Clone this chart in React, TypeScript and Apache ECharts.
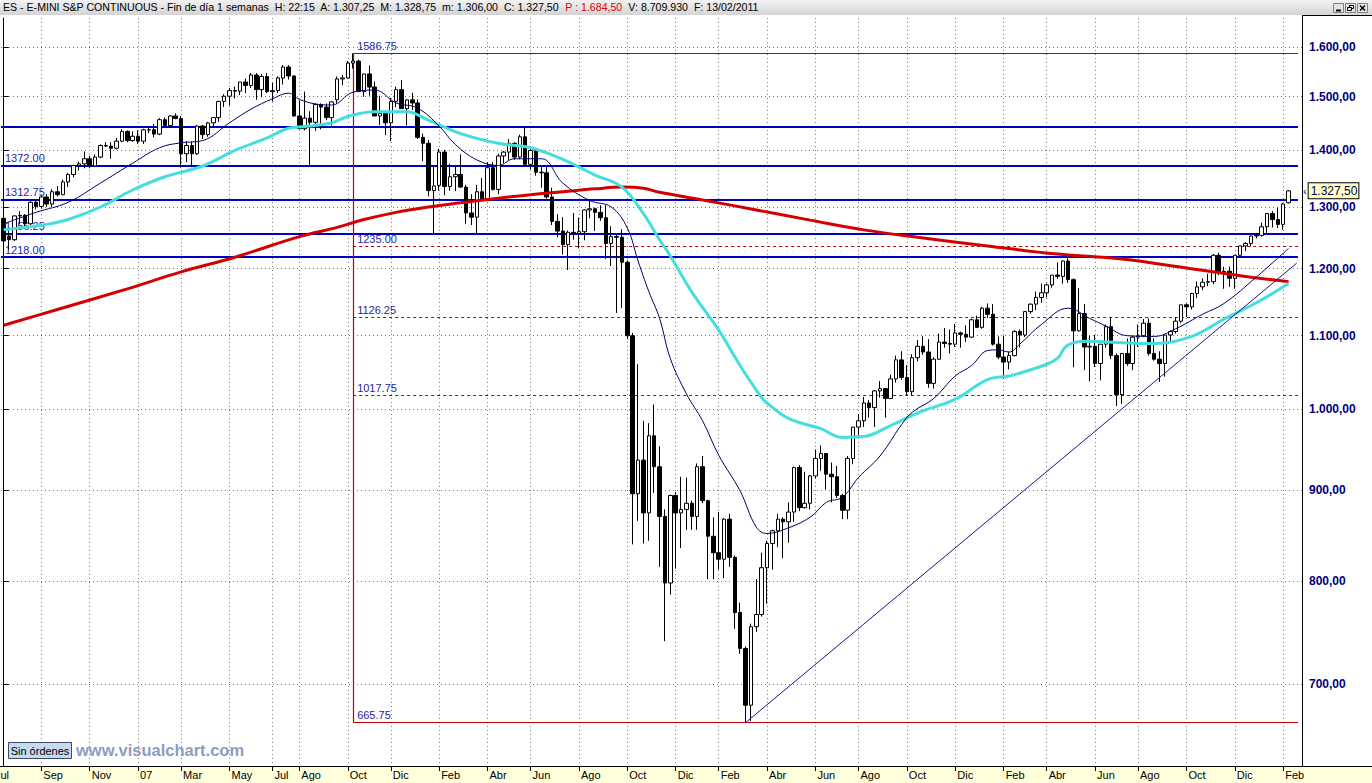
import React, { useEffect, useRef } from 'react';
import * as echarts from 'echarts';

// ---------- data (weekly ES continuous, week index 0 = week ending 14 Jul 2006) ----------
const opens = [
  1281, 1252, 1246, 1285, 1286, 1272, 1308, 1301, 1317, 1305,
  1326, 1321, 1343, 1356, 1372, 1375, 1384, 1371, 1387, 1408,
  1407, 1403, 1416, 1434, 1417, 1425, 1416, 1437, 1437, 1429,
  1456, 1445, 1463, 1458, 1393, 1408, 1393, 1444, 1428, 1450,
  1460, 1491, 1501, 1512, 1511, 1529, 1522, 1543, 1514, 1540,
  1510, 1512, 1537, 1559, 1541, 1463, 1439, 1459, 1451, 1485,
  1480, 1460, 1494, 1535, 1537, 1567, 1571, 1510, 1545, 1519,
  1463, 1468, 1450, 1491, 1514, 1477, 1494, 1488, 1423, 1412,
  1328, 1337, 1396, 1335, 1352, 1356, 1334, 1290, 1283, 1326,
  1312, 1368, 1330, 1389, 1396, 1412, 1387, 1424, 1374, 1399,
  1360, 1359, 1317, 1276, 1260, 1238, 1258, 1256, 1259, 1295,
  1297, 1291, 1282, 1240, 1251, 1250, 1210, 1100, 896, 936,
  874, 966, 928, 870, 798, 894, 874, 878, 885, 870,
  928, 888, 848, 830, 823, 867, 825, 768, 733, 681,
  754, 766, 814, 840, 854, 867, 864, 875, 927, 880,
  885, 917, 938, 944, 919, 916, 894, 877, 938, 977,
  985, 1008, 1002, 1024, 1027, 1014, 1040, 1066, 1042, 1023,
  1069, 1085, 1077, 1034, 1067, 1091, 1089, 1088, 1104, 1102,
  1098, 1123, 1112, 1140, 1131, 1088, 1070, 1063, 1072, 1106,
  1101, 1135, 1146, 1156, 1163, 1175, 1190, 1188, 1212, 1183,
  1107, 1132, 1084, 1085, 1061, 1088, 1113, 1072, 1019, 1075,
  1061, 1098, 1100, 1118, 1075, 1067, 1061, 1101, 1106, 1121,
  1145, 1142, 1162, 1172, 1179, 1180, 1221, 1195, 1196, 1185,
  1221, 1236, 1240, 1252, 1253, 1267, 1289, 1279, 1271, 1307.25,
];
const highs = [
  1287, 1266, 1286, 1293, 1288, 1310, 1312, 1318, 1322, 1330,
  1336, 1347, 1359, 1373, 1379, 1397, 1389, 1392, 1410, 1414,
  1414, 1422, 1438, 1436, 1434, 1436, 1439, 1443, 1448, 1459,
  1460, 1464, 1468, 1463, 1416, 1415, 1446, 1446, 1452, 1461,
  1492, 1505, 1517, 1520, 1529, 1536, 1547, 1547, 1545, 1547,
  1527, 1540, 1563, 1563, 1542, 1493, 1510, 1472, 1487, 1487,
  1487, 1491, 1540, 1543, 1571, 1586.75, 1574, 1545, 1562, 1530,
  1502, 1470, 1498, 1520, 1533, 1495, 1508, 1495, 1430, 1418,
  1372, 1402, 1400, 1375, 1370, 1392, 1338, 1322, 1338, 1350,
  1378, 1378, 1393, 1398, 1420, 1414, 1428, 1441, 1404, 1403,
  1369, 1369, 1333, 1288, 1283, 1261, 1290, 1282, 1296, 1313,
  1299, 1303, 1303, 1268, 1255, 1263, 1213, 1104, 1060, 985,
  982, 1006, 953, 878, 895, 898, 916, 915, 888, 932,
  941, 889, 869, 875, 868, 873, 827, 778, 735, 757,
  802, 830, 843, 855, 873, 869, 886, 928, 930, 922,
  918, 949, 954, 944, 933, 929, 896, 941, 977, 994,
  1016, 1012, 1025, 1037, 1027, 1046, 1072, 1078, 1059, 1074,
  1094, 1099, 1095, 1070, 1103, 1111, 1109, 1117, 1106, 1115,
  1125, 1129, 1142, 1147, 1146, 1099, 1100, 1077, 1108, 1109,
  1136, 1147, 1165, 1177, 1177, 1190, 1210, 1213, 1217, 1185,
  1170, 1146, 1100, 1101, 1088, 1116, 1127, 1075, 1075, 1096,
  1100, 1116, 1124, 1125, 1096, 1078, 1101, 1108, 1127, 1145,
  1147, 1163, 1180, 1185, 1192, 1223, 1225, 1203, 1203, 1221,
  1236, 1242, 1253, 1257, 1274, 1290, 1293, 1299, 1307, 1328.75,
];
const lows = [
  1242, 1230, 1244, 1271, 1268, 1270, 1296, 1297, 1300, 1300,
  1318, 1320, 1334, 1351, 1363, 1367, 1367, 1370, 1385, 1405,
  1384, 1401, 1414, 1414, 1415, 1411, 1411, 1431, 1423, 1427,
  1444, 1441, 1457, 1368, 1378, 1369, 1391, 1420, 1424, 1443,
  1452, 1480, 1483, 1497, 1503, 1507, 1517, 1494, 1499, 1507,
  1491, 1507, 1524, 1534, 1462, 1438, 1436, 1370, 1435, 1438,
  1455, 1445, 1487, 1523, 1536, 1556, 1510, 1500, 1502, 1463,
  1446, 1427, 1416, 1480, 1477, 1445, 1474, 1420, 1380, 1318,
  1256, 1328, 1320, 1328, 1327, 1333, 1272, 1270, 1256, 1310,
  1310, 1328, 1322, 1376, 1382, 1382, 1383, 1372, 1365, 1354,
  1333, 1314, 1270, 1250, 1222, 1198, 1246, 1232, 1245, 1281,
  1260, 1277, 1215, 1204, 1133, 1140, 1095, 839, 865, 840,
  843, 897, 815, 740, 786, 813, 835, 855, 855, 855,
  885, 802, 802, 812, 803, 815, 752, 728, 665.75, 667,
  749, 764, 777, 812, 836, 824, 841, 864, 876, 879,
  878, 914, 923, 901, 886, 891, 867, 867, 931, 966,
  977, 989, 977, 1015, 989, 1013, 1035, 1039, 1018, 1018,
  1064, 1073, 1028, 1027, 1066, 1083, 1075, 1084, 1083, 1091,
  1097, 1111, 1110, 1126, 1086, 1067, 1040, 1053, 1071, 1083,
  1098, 1132, 1137, 1148, 1156, 1171, 1184, 1177, 1178, 1056,
  1106, 1052, 1037, 1056, 1038, 1083, 1067, 1004, 1007, 1058,
  1052, 1084, 1098, 1072, 1065, 1036, 1043, 1091, 1103, 1118,
  1127, 1138, 1155, 1167, 1173, 1176, 1190, 1169, 1172, 1169,
  1220, 1228, 1235, 1248, 1251, 1257, 1266, 1265, 1262, 1306,
];
const closes = [
  1244, 1246, 1285, 1286, 1272, 1308, 1301, 1317, 1305, 1326,
  1321, 1343, 1356, 1372, 1375, 1384, 1371, 1387, 1408, 1407,
  1403, 1416, 1434, 1417, 1425, 1416, 1437, 1437, 1429, 1456,
  1445, 1463, 1458, 1393, 1408, 1393, 1444, 1428, 1450, 1460,
  1491, 1501, 1512, 1511, 1529, 1522, 1543, 1514, 1540, 1510,
  1512, 1537, 1559, 1541, 1463, 1439, 1459, 1451, 1485, 1480,
  1460, 1490, 1535, 1537, 1567, 1571, 1510, 1545, 1519, 1463,
  1468, 1450, 1491, 1514, 1477, 1494, 1488, 1423, 1412, 1328,
  1336, 1396, 1335, 1352, 1356, 1334, 1290, 1283, 1326, 1312,
  1368, 1330, 1389, 1396, 1412, 1387, 1424, 1374, 1399, 1360,
  1359, 1317, 1276, 1260, 1238, 1258, 1256, 1259, 1295, 1297,
  1291, 1282, 1240, 1251, 1250, 1210, 1100, 896, 936, 874,
  966, 928, 870, 798, 894, 874, 878, 885, 870, 928,
  888, 848, 830, 823, 867, 825, 768, 733, 681, 754,
  766, 814, 840, 854, 867, 864, 875, 927, 880, 885,
  917, 938, 944, 919, 916, 894, 877, 938, 977, 985,
  1008, 1002, 1024, 1027, 1014, 1040, 1066, 1042, 1023, 1069,
  1085, 1077, 1034, 1067, 1091, 1089, 1088, 1104, 1102, 1098,
  1123, 1112, 1140, 1131, 1088, 1070, 1063, 1072, 1106, 1101,
  1135, 1146, 1156, 1163, 1175, 1190, 1188, 1212, 1183, 1107,
  1132, 1084, 1085, 1061, 1088, 1113, 1072, 1019, 1075, 1061,
  1098, 1100, 1118, 1075, 1067, 1061, 1101, 1106, 1121, 1145,
  1142, 1162, 1172, 1179, 1180, 1221, 1195, 1196, 1185, 1221,
  1236, 1240, 1252, 1253, 1267, 1289, 1279, 1271, 1305, 1327.5,
];

const categoryCount = 242; // 240 weeks + 2 empty slots on the right
const firstWeekUTC = Date.UTC(2006, 6, 14);

const xLabelIdx = [7, 16, 25, 33, 42, 50, 55, 64, 72, 81, 90, 98, 107, 116, 125, 133, 142, 151, 159, 168, 177, 186, 194, 203, 211, 220, 229, 238];
const xLabelText = ['Sep', 'Nov', '07', 'Mar', 'May', 'Jul', 'Ago', 'Oct', 'Dic', 'Feb', 'Abr', 'Jun', 'Ago', 'Oct', 'Dic', 'Feb', 'Abr', 'Jun', 'Ago', 'Oct', 'Dic', 'Feb', 'Abr', 'Jun', 'Ago', 'Oct', 'Dic', 'Feb'];
const yTicks = [700, 800, 900, 1000, 1100, 1200, 1300, 1400, 1500, 1600];

// moving averages: [week index, value]
const redMA = [[0, 1115], [10, 1138], [23, 1169], [33, 1195], [43, 1218], [55, 1251], [62, 1266], [67, 1279], [73, 1291], [79, 1300], [85, 1307], [92, 1315], [98, 1321], [104, 1326], [110, 1331], [115, 1334], [119, 1332], [122, 1325], [130, 1312], [140, 1295], [150, 1278], [160, 1262], [170, 1250], [183, 1236], [196, 1223], [208, 1215], [220, 1201], [230, 1189], [239, 1180]];
const cyanMA = [[0, 1262], [8, 1271], [12, 1279], [18, 1300], [24, 1329], [30, 1352], [37, 1371], [43, 1399], [49, 1422], [53, 1440], [57, 1444], [61, 1450], [64, 1462], [69, 1471], [75, 1471], [79, 1455], [85, 1430], [92, 1412], [98, 1404], [104, 1383], [110, 1355], [115, 1334], [119, 1289], [122, 1246], [124, 1220], [128, 1164], [133, 1108], [137, 1058], [141, 1015], [142, 1008], [146, 988], [152, 975], [156, 964], [160, 965], [165, 979], [170, 995], [177, 1013], [183, 1039], [187, 1044], [190, 1050], [194, 1060], [196, 1068], [198, 1087], [202, 1092], [208, 1090], [214, 1089], [221, 1099], [227, 1124], [233, 1148], [239, 1177]];
const navyMA = [[0, 1272], [6, 1291], [12, 1308], [18, 1341], [24, 1376], [29, 1404], [33, 1413], [37, 1417], [42, 1450], [46, 1476], [50, 1496], [53, 1507], [55, 1495], [58, 1486], [61, 1484], [65, 1509], [69, 1513], [73, 1488], [77, 1478], [81, 1444], [84, 1410], [88, 1382], [92, 1372], [95, 1384], [100, 1384], [104, 1341], [109, 1311], [113, 1300], [116, 1265], [118, 1212], [120, 1165], [122, 1125], [124, 1068], [127, 1020], [130, 985], [133, 942], [137, 899], [140, 858], [142, 851], [145, 855], [150, 869], [153, 886], [156, 892], [159, 915], [163, 941], [167, 980], [169, 996], [173, 1014], [177, 1044], [180, 1058], [183, 1079], [185, 1080], [187, 1077], [189, 1088], [193, 1116], [198, 1140], [202, 1125], [205, 1114], [209, 1100], [214, 1099], [218, 1110], [223, 1131], [227, 1147], [233, 1187], [239, 1232]];
const trendLine = [[138, 665.75], [240.5, 1208.5]];

const blueLevels = [1442.75, 1372, 1312.75, 1256.25, 1218];
const blueLevelLabels = ['', '1372.00', '1312.75', '1256.25', '1218.00'];
const fibIdx = 65;
const fibHigh = 1586.75;
const fibLow = 665.75;
const fibDashed = [1235, 1126.25, 1017.75];
const lastPrice = 1327.5;
const lineStartIdx = -0.5;
const lineEndIdx = 240.75;

const FONT = 'Arial, "Liberation Sans", Helvetica, sans-serif';

function fmtPrice(v: number): string {
  const s = Number(v).toFixed(2);
  const [i, d] = s.split('.');
  return i.replace(/\B(?=(\d{3})+(?!\d))/g, '.') + ',' + d;
}
function fmtLevel(v: number): string {
  return v.toFixed(2);
}

export default function App() {
  const ref = useRef<HTMLDivElement>(null);
  useEffect(() => {
    const chart = echarts.init(ref.current as HTMLDivElement, null, { renderer: 'svg' });

    const weekCats = Array.from({ length: categoryCount }, (_, i) =>
      new Date(firstWeekUTC + i * 7 * 86400000).toISOString().slice(0, 10));
    const labelAt = new Map<number, string>(xLabelIdx.map((k, j) => [k, xLabelText[j]]));

    const lvlLabel = (text: string) => ({
      show: text !== '',
      formatter: text,
      position: 'insideStartTop',
      distance: [4, 2],
      color: '#2626a0',
      fontSize: 11,
      fontFamily: FONT,
    });
    const hLine = (v: number, x0: number, x1: number, color: string, type: any, width: number, text: string) => [
      { coord: [x0, v], lineStyle: { color, type, width }, label: lvlLabel(text) },
      { coord: [x1, v] },
    ];

    const fibColor = '#c00000';
    const levelData: any[] = [];
    blueLevels.forEach((v, i) => levelData.push(hLine(v, lineStartIdx, lineEndIdx, '#0000c4', 'solid', 2, blueLevelLabels[i])));
    levelData.push(hLine(fibHigh, fibIdx, lineEndIdx, fibColor, 'solid', 1.2, fmtLevel(fibHigh)));
    levelData.push(hLine(fibLow, fibIdx, lineEndIdx, fibColor, 'solid', 1.2, fmtLevel(fibLow)));
    fibDashed.forEach((v) => levelData.push(hLine(v, fibIdx, lineEndIdx, fibColor, [3, 3], 1, fmtLevel(v))));
    levelData.push([
      { coord: [fibIdx, fibHigh], lineStyle: { color: fibColor, type: 'solid', width: 1.2 }, label: { show: false } },
      { coord: [fibIdx, fibLow] },
    ]);

    const maSeries = (data: number[][], color: string, width: number) => ({
      type: 'line', xAxisIndex: 1, yAxisIndex: 0, data, smooth: 0.4, symbol: 'none', silent: true, z: 4,
      lineStyle: { color, width }, emphasis: { disabled: true },
    });

    const titleText = 'ES - E-MINI S&P CONTINUOUS - Fin de día 1 semanas  H: 22:15  A: 1.307,25  M: 1.328,75  m: 1.306,00  C: 1.327,50  {r|P : 1.684,50}  V: 8.709.930  F: 13/02/2011';
    const titleFont = '10.6px ' + FONT;

    const btnX = [1333, 1345, 1357];

    const option: any = {
      animation: false,
      backgroundColor: '#ffffff',
      grid: { left: 1, right: 70, top: 18, bottom: 17, containLabel: false },
      xAxis: [
        {
          type: 'category', data: weekCats, boundaryGap: true, position: 'bottom',
          axisLine: { show: true, lineStyle: { color: '#000', width: 1 } },
          axisTick: { show: true, alignWithLabel: true, interval: (i: number) => labelAt.has(i), length: 5, lineStyle: { color: '#000' } },
          axisLabel: {
            show: true, interval: (i: number) => labelAt.has(i), formatter: (_v: string, i: number) => labelAt.get(i) || '',
            align: 'left', color: '#000', fontSize: 11, fontFamily: FONT, margin: 3, padding: [0, 0, 0, 2],
          },
          splitLine: { show: false },
        },
        {
          type: 'value', min: -0.5, max: categoryCount - 0.5, position: 'top',
          axisLine: { show: false }, axisLabel: { show: false },
          axisTick: { show: false, customValues: xLabelIdx },
          splitLine: { show: true, lineStyle: { color: '#7a7a7a', type: [1, 3], width: 1 } },
        },
      ],
      yAxis: {
        type: 'log', logBase: 10, min: 629.3, max: 1661.4, position: 'right',
        axisLine: { show: true, lineStyle: { color: '#000', width: 1 } },
        axisTick: { show: true, customValues: yTicks, length: 5, lineStyle: { color: '#000' } },
        axisLabel: { customValues: yTicks, formatter: (v: number) => fmtPrice(v), color: '#000080', fontSize: 12, fontWeight: 'bold', fontFamily: FONT, margin: 7 },
        splitLine: { show: true, lineStyle: { color: '#7a7a7a', type: [1, 3], width: 1 } },
      },
      series: [
        {
          type: 'line', xAxisIndex: 1, yAxisIndex: 0, data: [], silent: true, z: 2,
          markLine: { silent: true, symbol: ['none', 'none'], z: 2, animation: false, data: levelData },
        },
        {
          type: 'candlestick', xAxisIndex: 0, yAxisIndex: 0, z: 3, silent: true, barWidth: 4,
          data: opens.map((o, i) => [o, closes[i], lows[i], highs[i]]),
          itemStyle: { color: '#ffffff', color0: '#000000', borderColor: '#000000', borderColor0: '#000000', borderWidth: 1 },
        },
        {
          type: 'line', xAxisIndex: 0, yAxisIndex: 0, data: [], silent: true, z: 6,
          markLine: {
            silent: true, symbol: ['none', 'none'], z: 6, animation: false,
            lineStyle: { color: 'rgba(0,0,0,0)', width: 1, type: 'solid' },
            label: {
              show: true, position: 'end', distance: 1,
              formatter: '{a|‹}{b|' + fmtPrice(lastPrice) + '}',
              rich: {
                a: { color: '#000080', fontSize: 11, fontFamily: FONT, padding: [0, 2, 0, 0] },
                b: { backgroundColor: '#ffffc0', borderColor: '#000', borderWidth: 1, color: '#000060', fontSize: 12, fontFamily: FONT, padding: [2, 1, 1, 2] },
              },
            },
            data: [{ yAxis: lastPrice }],
          },
        },
        maSeries(redMA, '#d40000', 3),
        maSeries(cyanMA, '#44dede', 3),
        maSeries(navyMA, '#000066', 1),
        {
          type: 'line', xAxisIndex: 1, yAxisIndex: 0, data: trendLine, symbol: 'none', silent: true, z: 4,
          lineStyle: { color: '#1a1a8a', width: 1 },
        },
      ],
      graphic: {
        elements: [
          { type: 'rect', z: -1, silent: true, shape: { x: 0, y: 766, width: 1372, height: 17 }, style: { fill: '#ffffdc' } },
          { type: 'line', z: 10, silent: true, shape: { x1: 0, y1: 766.5, x2: 1372, y2: 766.5 }, style: { stroke: '#000', lineWidth: 1 } },
          { type: 'text', z: 10, silent: true, x: -5, y: 769, style: { text: 'Jul', fill: '#000', font: '11px ' + FONT, verticalAlign: 'top' } },
          {
            type: 'rect', z: 10, silent: true, shape: { x: 0, y: 0, width: 1372, height: 15 },
            style: { fill: new echarts.graphic.LinearGradient(0, 0, 0, 1, [{ offset: 0, color: '#f2f2f2' }, { offset: 1, color: '#d4d4d4' }]) },
          },
          {
            type: 'text', z: 11, silent: true, x: 3, y: 1.5,
            style: { text: titleText, fill: '#000', font: titleFont, verticalAlign: 'top', rich: { r: { fill: '#e00000', font: titleFont } } },
          },
          { type: 'line', z: 10, silent: true, shape: { x1: 1302.5, y1: 15, x2: 1302.5, y2: 766 }, style: { stroke: '#000', lineWidth: 1 } },
          { type: 'line', z: 10, silent: true, shape: { x1: 1302, y1: 15.5, x2: 1372, y2: 15.5 }, style: { stroke: '#000', lineWidth: 1 } },
          ...btnX.map((bx) => ({ type: 'rect', z: 11, silent: true, shape: { x: bx + 0.5, y: 3.5, width: 10, height: 9 }, style: { fill: '#e4e4e4', stroke: '#808080', lineWidth: 1 } })),
          { type: 'line', z: 12, silent: true, shape: { x1: btnX[0] + 3, y1: 10.5, x2: btnX[0] + 8, y2: 10.5 }, style: { stroke: '#000', lineWidth: 2 } },
          { type: 'rect', z: 12, silent: true, shape: { x: btnX[1] + 4.5, y: 5.5, width: 4, height: 3 }, style: { fill: 'none', stroke: '#000', lineWidth: 1 } },
          { type: 'rect', z: 12, silent: true, shape: { x: btnX[1] + 2.5, y: 7.5, width: 4, height: 3 }, style: { fill: '#e4e4e4', stroke: '#000', lineWidth: 1 } },
          { type: 'line', z: 12, silent: true, shape: { x1: btnX[2] + 3, y1: 5.5, x2: btnX[2] + 8, y2: 10.5 }, style: { stroke: '#000', lineWidth: 1.5 } },
          { type: 'line', z: 12, silent: true, shape: { x1: btnX[2] + 8, y1: 5.5, x2: btnX[2] + 3, y2: 10.5 }, style: { stroke: '#000', lineWidth: 1.5 } },
          { type: 'rect', z: 10, silent: true, shape: { x: 8.5, y: 742.5, width: 63, height: 16 }, style: { fill: '#c6daf0', stroke: '#3c4a66', lineWidth: 1 } },
          { type: 'text', z: 11, silent: true, x: 40, y: 751, style: { text: 'Sin órdenes', fill: '#000', font: '11px ' + FONT, align: 'center', verticalAlign: 'middle' } },
          { type: 'text', z: 10, silent: true, x: 76, y: 750, style: { text: 'www.visualchart.com', fill: '#8e9cc2', font: 'bold 16.5px ' + FONT, verticalAlign: 'middle' } },
        ],
      },
    };

    chart.setOption(option);
    return () => chart.dispose();
  }, []);

  return <div ref={ref} style={{ position: 'absolute', left: 0, top: 0, width: 1372, height: 783, background: '#ffffff' }} />;
}
